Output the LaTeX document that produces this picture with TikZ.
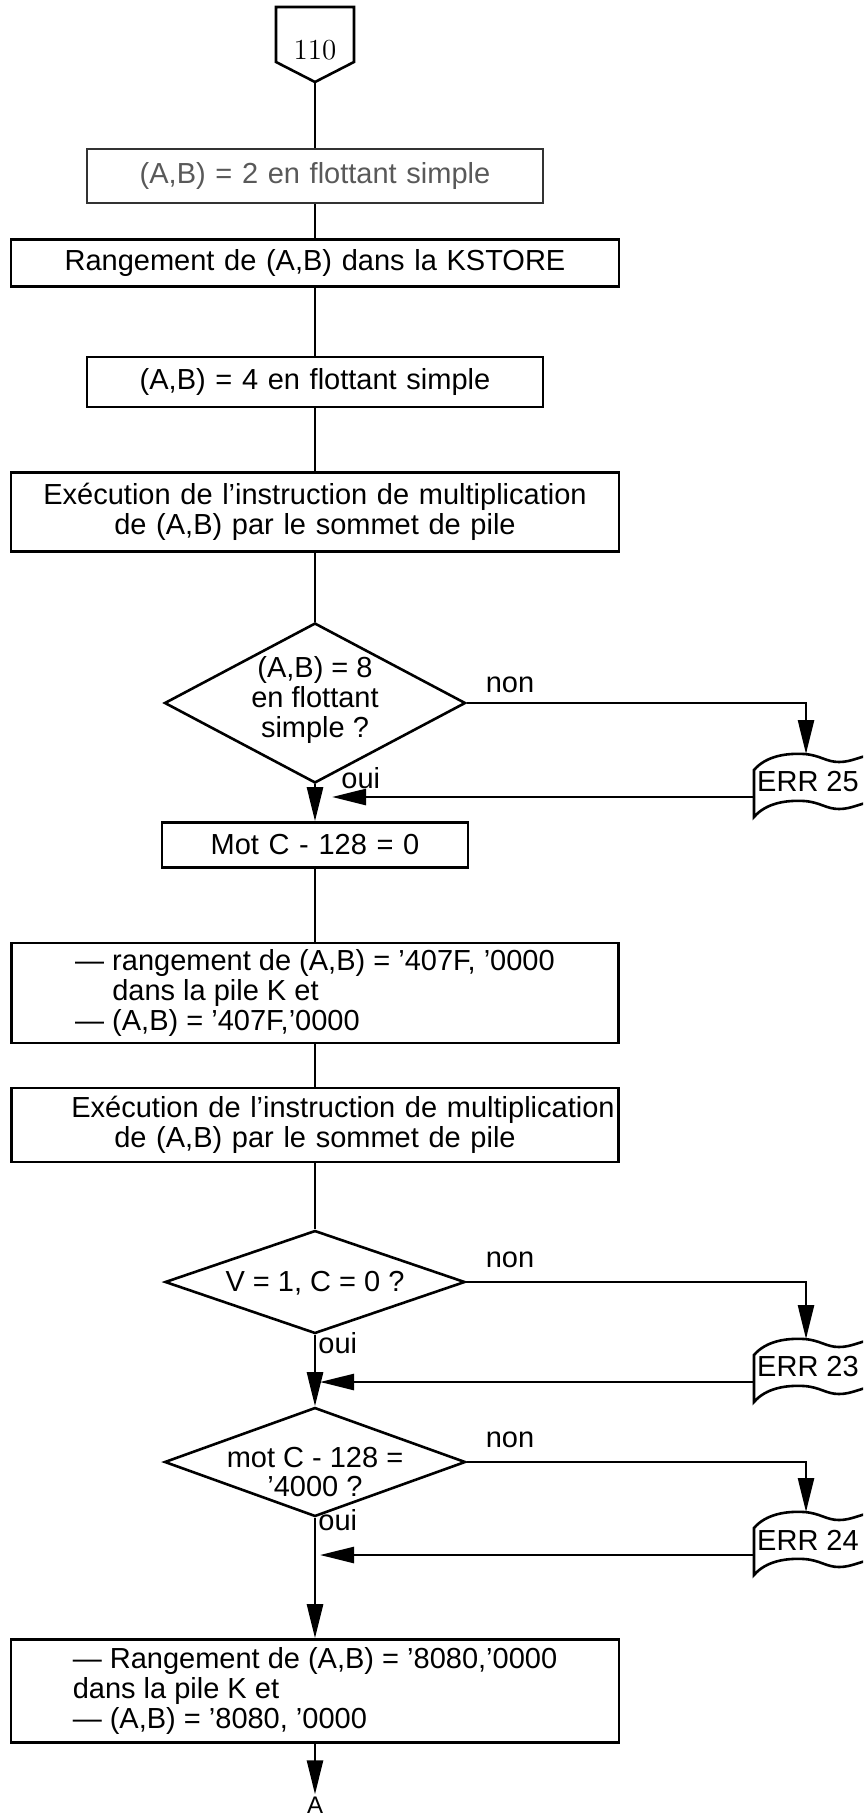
\documentclass[tikz,border=0pt]{standalone}
\usepackage{fontspec}
\setsansfont{Liberation Sans}
\usetikzlibrary{arrows.meta,shapes.geometric}
\newcommand\flowfont{\sffamily\fontsize{14.5}{14.8}\selectfont}
% punched-tape error symbol: #1 name, #2 y of the top-left corner, #3 text
\newcommand\errtape[3]{%
  \begin{scope}[shift={(754,#2)}]
    \draw[line] (0,0) .. controls (12,-14) and (32,-17) .. (50,-16)
      .. controls (66,-15) and (72,-8) .. (85,-8)
      .. controls (98,-8) and (106,-14) .. (125,-17)
      -- (125,30)
      .. controls (106,33) and (98,39) .. (85,39)
      .. controls (72,39) and (66,32) .. (50,31)
      .. controls (32,30) and (12,33) .. (0,47) -- cycle;
    \node[lbl] (#1) at (54,12) {#3};
    \coordinate (#1in) at (52,-16);
    \coordinate (#1out) at (0,27);
  \end{scope}}
\begin{document}
\begin{tikzpicture}[x=0.5pt,y=-0.5pt,
  line/.style={line width=1.3pt},
  flow/.style={line,-{Triangle[length=17pt,width=8pt]}},
  box/.style={draw,line,inner sep=0pt,align=center,font=\flowfont},
  cond/.style={draw,line,diamond,inner sep=0pt},
  ctext/.style={align=center,font=\flowfont,inner sep=0pt},
  lbl/.style={font=\flowfont,inner sep=0pt}]
\useasboundingbox (0,0) rectangle (863,1819);
\clip (0,0) rectangle (863,1819);

% entry connector
\draw[line] (276,7) -- (354,7) -- (354,62) -- (315,82) -- (276,62) -- cycle;
\node[font=\fontsize{14.5}{15}\selectfont,inner sep=0pt] (p110) at (315,50) {110};
\coordinate (p110tip) at (315,82);

% process boxes
\node[box,draw=black!80,text=black!65,minimum width=228pt,minimum height=27pt,text width=224pt] (b1) at (315,176)
  {(A,B) = 2 en flottant simple};
\node[box,minimum width=304pt,minimum height=23.5pt,text width=300pt] (b2) at (315,263)
  {Rangement de (A,B) dans la KSTORE};
\node[box,minimum width=228pt,minimum height=25pt,text width=224pt] (b3) at (315,382)
  {(A,B) = 4 en flottant simple};
\node[box,minimum width=304pt,minimum height=39.5pt,text width=300pt] (b4) at (315,512)
  {Exécution de l'instruction de multiplication\\de (A,B) par le sommet de pile};

% first test
\node[cond,minimum width=150.5pt,minimum height=80pt] (d1) at (315,703) {};
\node[ctext] (d1t) at (315,700) {(A,B) = 8\\en flottant\\simple ?};

\node[box,minimum width=153pt,minimum height=22.5pt,text width=150pt] (mot) at (315,845)
  {Mot C - 128 = 0};
\node[box,align=left,minimum width=303.5pt,minimum height=50pt] (b6) at (315,993)
  {— rangement de (A,B) = '407F, '0000\\\phantom{— }dans la pile K et\\— (A,B) = '407F,'0000};
\node[box,minimum width=303.5pt,minimum height=37pt,text width=300pt] (b7) at (315,1125)
  {\hspace*{28pt}Exécution de l'instruction de multiplication\\de (A,B) par le sommet de pile};

% second and third tests
\node[cond,minimum width=150pt,minimum height=51.5pt] (d2) at (315,1282) {};
\node[ctext] (d2t) at (315,1283) {V = 1, C = 0 ?};
\node[cond,minimum width=150.5pt,minimum height=54.5pt] (d3) at (315,1462) {};
\node[ctext] (d3t) at (315,1472) {mot C - 128 =\\'4000 ?};

\node[box,align=left,minimum width=304pt,minimum height=51.5pt] (b8) at (315,1691)
  {— Rangement de (A,B) = '8080,'0000\\dans la pile K et\\— (A,B) = '8080, '0000};
\node[font=\sffamily\fontsize{12}{13}\selectfont,inner sep=1pt] (A) at (315,1805) {A};

% error exits
\errtape{e25}{770}{ERR 25}
\errtape{e23}{1355}{ERR 23}
\errtape{e24}{1528}{ERR 24}
\coordinate (r25) at (332,797);
\coordinate (r23) at (320,1382);
\coordinate (r24) at (320,1555);

% main flow
\draw[line] (p110tip) -- (b1.north);
\draw[line] (b1) -- (b2);
\draw[line] (b2) -- (b3);
\draw[line] (b3) -- (b4);
\draw[line] (b4) -- (d1);
\draw[flow] (d1) -- (mot);
\draw[line] (mot) -- (b6);
\draw[line] (b6) -- (b7);
\draw[line] (b7) -- (d2);
\draw[flow] (d2) -- (d3);
\draw[flow] (d3) -- (b8);
\draw[flow] (b8) -- (A);

% branches
\draw[flow] (d1.east) -| (e25in);
\draw[flow] (e25out) -- (r25);
\draw[flow] (d2.east) -| (e23in);
\draw[flow] (e23out) -- (r23);
\draw[flow] (d3.east) -| (e24in);
\draw[flow] (e24out) -- (r24);

% branch labels
\node[lbl,anchor=base] (n1) at (510,692) {non};
\node[lbl,anchor=base] (n2) at (510,1267) {non};
\node[lbl,anchor=base] (n3) at (510,1447) {non};
\node[lbl,anchor=base west] (o1) at (341,788) {oui};
\node[lbl,anchor=base west] (o2) at (318,1353) {oui};
\node[lbl,anchor=base west] (o3) at (318,1530) {oui};
\end{tikzpicture}
\end{document}
